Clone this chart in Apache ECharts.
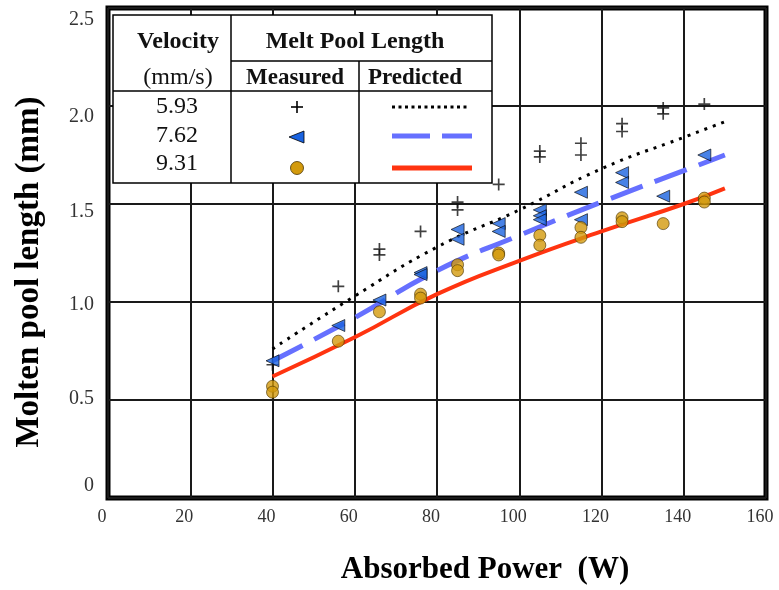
<!DOCTYPE html>
<html>
<head>
<meta charset="utf-8">
<script src="https://cdn.jsdelivr.net/npm/echarts@6/dist/echarts.min.js"></script>
<style>
  html, body { margin: 0; padding: 0; background: #fff; }
  #chart { width: 779px; height: 590px; }
</style>
</head>
<body>
<div id="chart"></div>
<script>
// Axis ticks
const xTicks = [0, 20, 40, 60, 80, 100, 120, 140, 160];
const yTicks = ['0', '0.5', '1.0', '1.5', '2.0', '2.5'];

// Measured melt pool length [absorbed power W, length mm]
const measured593 = [
  [40, 0.68], [56, 1.08], [66, 1.27], [66, 1.24], [76, 1.36],
  [85, 1.51], [85, 1.47], [95, 1.60], [105, 1.77], [105, 1.74],
  [115, 1.81], [115, 1.75], [125, 1.91], [125, 1.87],
  [135, 1.99], [135, 1.96], [145, 2.01]
];
const measured762 = [
  [40, 0.70], [56, 0.88], [66, 1.01], [76, 1.15], [76, 1.14],
  [85, 1.37], [85, 1.32], [95, 1.40], [95, 1.36],
  [105, 1.47], [105, 1.44], [105, 1.42], [115, 1.56], [115, 1.42],
  [125, 1.66], [125, 1.61], [135, 1.54], [145, 1.75]
];
const measured931 = [
  [40, 0.57], [40, 0.54], [56, 0.80], [66, 0.95], [76, 1.04], [76, 1.02],
  [85, 1.19], [85, 1.16], [95, 1.25], [95, 1.24], [105, 1.34], [105, 1.29],
  [115, 1.38], [115, 1.33], [125, 1.43], [125, 1.41], [135, 1.40],
  [145, 1.53], [145, 1.51]
];

// Predicted melt pool length
const predicted593 = [[40, 0.76], [60, 1.03], [80, 1.28], [100, 1.47], [120, 1.68], [140, 1.84], [150, 1.92]];
const predicted762 = [[40, 0.70], [60, 0.92], [80, 1.16], [100, 1.34], [120, 1.51], [140, 1.67], [150, 1.75]];
const predicted931 = [[40, 0.62], [60, 0.82], [80, 1.04], [100, 1.21], [120, 1.36], [140, 1.50], [150, 1.58]];

const velocities = ['5.93', '7.62', '9.31'];

const SERIF = '"Liberation Serif", "DejaVu Serif", serif';
const PLUS = 'path://M4.3,0H5.7V4.3H10V5.7H5.7V10H4.3V5.7H0V4.3H4.3Z';
const BLUE = '#1a63e0';
const GOLD = '#d39a0c';
const DASH_BLUE = '#6670ff';
const RED = '#ff3410';

// vertical nudge (px) of each y tick label, bottom to top
const yLabelShift = [-12, -1, 3, 8, 11, 12];
const yRich = {};
yLabelShift.forEach((d, i) => {
  yRich['t' + i] = {
    fontFamily: SERIF, fontSize: 20, color: '#333',
    padding: d >= 0 ? [2 * d, 0, 0, 0] : [0, 0, -2 * d, 0]
  };
});

const chart = echarts.init(document.getElementById('chart'), null, { renderer: 'canvas' });

// Legend table drawn as a small boxed grid
const T = { l: 113, r: 492, t: 15, b: 183, c1: 231, c2: 359, h1: 61, h2: 91 };
const rowY = [107, 136, 164];
function line(x1, y1, x2, y2, w) {
  return { type: 'line', shape: { x1, y1, x2, y2 }, style: { stroke: '#000', lineWidth: w || 1.5 }, z: 101 };
}
function txt(text, x, y, bold, size) {
  return {
    type: 'text', z: 102,
    style: { text, x, y, align: 'center', verticalAlign: 'middle',
      font: (bold ? 'bold ' : '') + (size || 23) + 'px ' + SERIF, fill: '#111' }
  };
}
const legendTable = [
  { type: 'rect', z: 100, shape: { x: T.l, y: T.t, width: T.r - T.l, height: T.b - T.t },
    style: { fill: '#fff', stroke: '#000', lineWidth: 1.5 } },
  line(T.c1, T.t, T.c1, T.b),
  line(T.c2, T.h1, T.c2, T.b),
  line(T.c1, T.h1, T.r, T.h1),
  line(T.l, T.h2, T.r, T.h2),
  txt('Velocity', 178, 42, true, 24),
  txt('(mm/s)', 178, 78, false, 24),
  txt('Melt Pool Length', 355, 42, true, 24),
  txt('Measured', 295, 78, true, 23),
  txt('Predicted', 415, 78, true, 23),
  txt(velocities[0], 177, rowY[0], false, 24),
  txt(velocities[1], 177, rowY[1], false, 24),
  txt(velocities[2], 177, rowY[2], false, 24),
  // measured symbols
  line(291, rowY[0], 303, rowY[0], 1.6),
  line(297, rowY[0] - 6, 297, rowY[0] + 6, 1.6),
  { type: 'polygon', z: 102, shape: { points: [[289, rowY[1] + 1], [304, rowY[1] - 5], [304, rowY[1] + 7]] },
    style: { fill: BLUE, stroke: '#000', lineWidth: 0.8 } },
  { type: 'circle', z: 102, shape: { cx: 297, cy: rowY[2] + 4, r: 6.5 },
    style: { fill: GOLD, stroke: '#4a3400', lineWidth: 0.8 } },
  // predicted line samples
  { type: 'line', z: 102, shape: { x1: 392, y1: rowY[0], x2: 468, y2: rowY[0] },
    style: { stroke: '#000', lineWidth: 3, lineDash: [3, 3.5] } },
  { type: 'line', z: 102, shape: { x1: 392, y1: rowY[1], x2: 472, y2: rowY[1] },
    style: { stroke: DASH_BLUE, lineWidth: 5, lineDash: [38, 12] } },
  { type: 'line', z: 102, shape: { x1: 392, y1: rowY[2] + 4, x2: 472, y2: rowY[2] + 4 },
    style: { stroke: RED, lineWidth: 5 } }
];

const option = {
  backgroundColor: '#fff',
  animation: false,
  grid: {
    left: 108, right: 13, top: 8, bottom: 91,
    show: true, borderColor: '#000', borderWidth: 5, backgroundColor: 'transparent'
  },
  xAxis: {
    type: 'value', min: 0, max: 160, interval: 20,
    name: 'Absorbed Power  (W)', nameLocation: 'middle', nameGap: 56,
    nameTextStyle: { fontFamily: SERIF, fontWeight: 'bold', fontSize: 31, color: '#000', padding: [0, 0, 0, 96] },
    axisLine: { show: false }, axisTick: { show: false },
    axisLabel: {
      fontFamily: SERIF, fontSize: 18, color: '#333', margin: 10, padding: [0, 12, 0, 0],
      formatter: v => String(xTicks[xTicks.indexOf(v)])
    },
    splitLine: { show: true, lineStyle: { color: '#1a1a1a', width: 2 } }
  },
  yAxis: {
    type: 'value', min: 0, max: 2.5, interval: 0.5,
    name: 'Molten pool length (mm)', nameLocation: 'middle', nameGap: 62,
    nameTextStyle: { fontFamily: SERIF, fontWeight: 'bold', fontSize: 33, color: '#000', padding: [0, 38, 0, 0] },
    axisLine: { show: false }, axisTick: { show: false },
    axisLabel: {
      margin: 14,
      formatter: v => { const i = Math.round(v / 0.5); return '{t' + i + '|' + yTicks[i] + '}'; },
      rich: yRich
    },
    splitLine: { show: true, lineStyle: { color: '#1a1a1a', width: 2 } }
  },
  series: [
    { name: 'Predicted 5.93', type: 'line', data: predicted593, smooth: true, symbol: 'none', z: 3,
      lineStyle: { color: '#000', width: 3, type: [3, 6] } },
    { name: 'Predicted 7.62', type: 'line', data: predicted762, smooth: true, symbol: 'none', z: 3,
      lineStyle: { color: DASH_BLUE, width: 5, type: [34, 13] } },
    { name: 'Predicted 9.31', type: 'line', data: predicted931, smooth: true, symbol: 'none', z: 3,
      lineStyle: { color: RED, width: 4 } },
    { name: 'Measured 5.93', type: 'scatter', data: measured593, symbol: PLUS, symbolSize: 12, z: 5,
      itemStyle: { color: '#111' } },
    { name: 'Measured 7.62', type: 'scatter', data: measured762, symbol: 'triangle', symbolRotate: 90,
      symbolSize: [12, 13], z: 5, itemStyle: { color: BLUE, borderColor: '#000', borderWidth: 0.8 } },
    { name: 'Measured 9.31', type: 'scatter', data: measured931, symbol: 'circle', symbolSize: 12, z: 6,
      itemStyle: { color: GOLD, borderColor: '#4a3400', borderWidth: 0.8 } }
  ],
  graphic: legendTable
};

chart.setOption(option);
</script>
</body>
</html>
